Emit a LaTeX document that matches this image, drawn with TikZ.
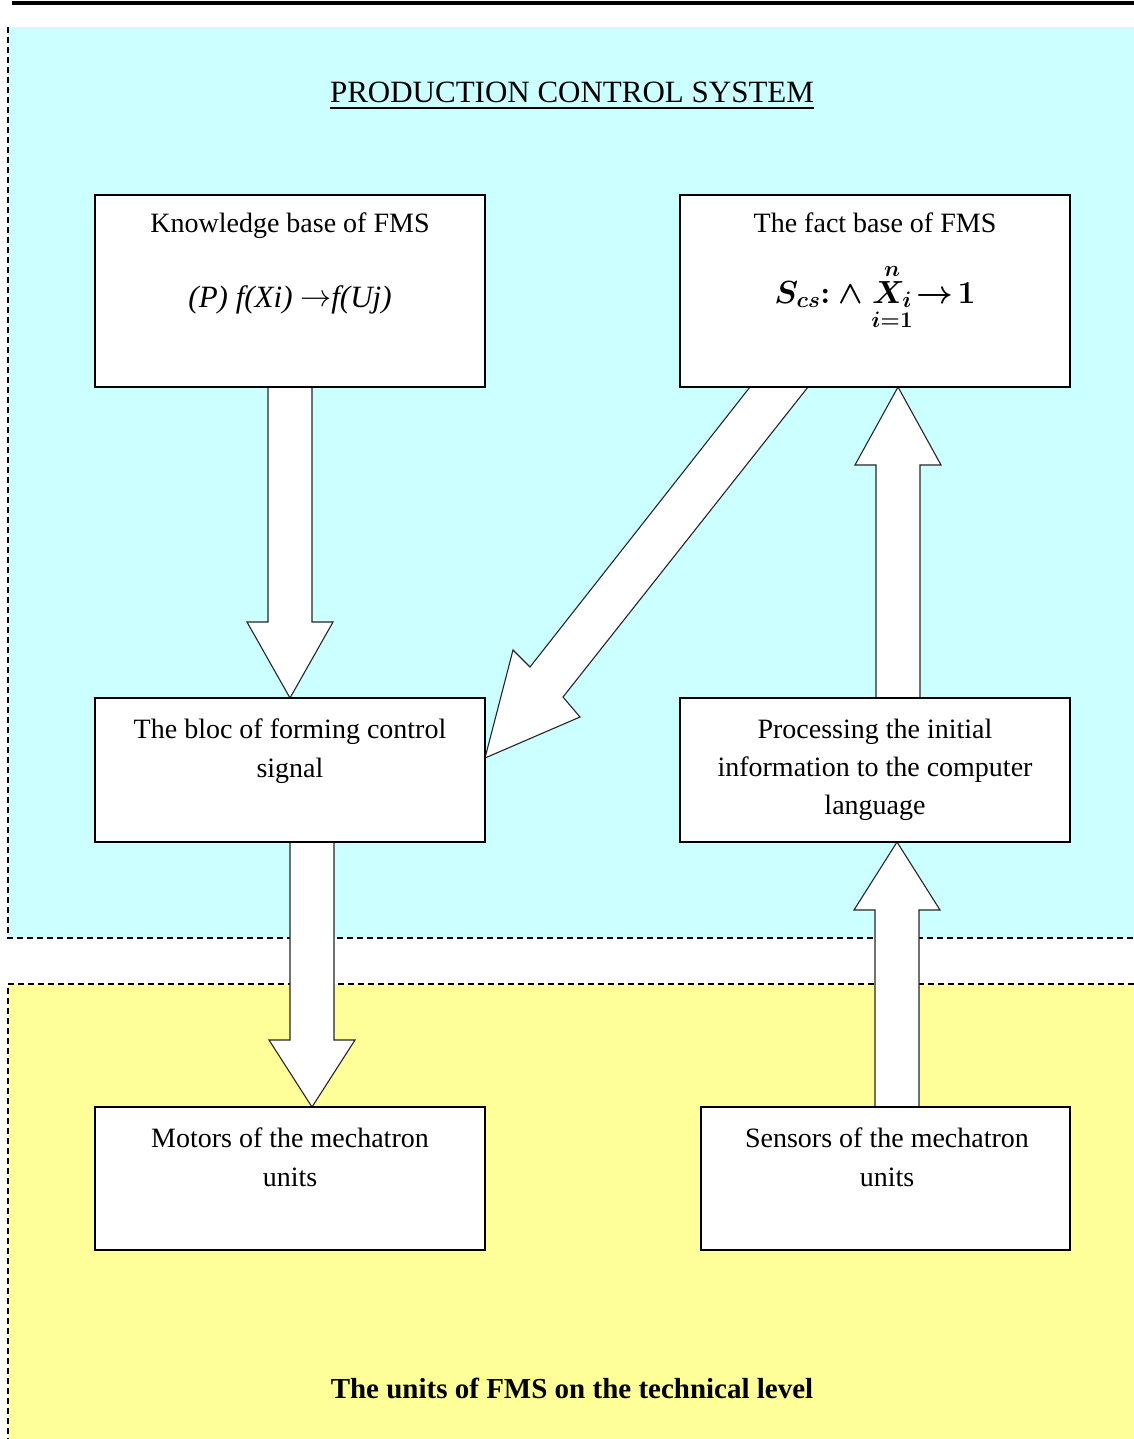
\documentclass[tikz,border=0pt]{standalone}
\usepackage{fix-cm}
\usepackage{fontspec}
\setmainfont{Liberation Serif}
\usepackage{amsmath}
\usetikzlibrary{calc}
\definecolor{cyanbg}{RGB}{204,255,255}
\definecolor{yellowbg}{RGB}{255,255,153}
\newcommand{\vblockarrow}[4]{%
  \draw[blockarrow] (#1-22,#2) -- (#1-22,#3) -- (#1-43,#3) -- (#1,#4) -- (#1+43,#3) -- (#1+22,#3) -- (#1+22,#2) -- cycle;}
\begin{document}
\begin{tikzpicture}[x=1pt,y=-1pt,
  box/.style={draw=black, line width=1.2pt, fill=white, inner sep=0pt},
  blockarrow/.style={draw=black!85, line width=1.1pt, fill=white, line join=miter},
  txt/.style={inner sep=0pt, anchor=base, font=\fontsize{28}{39}\selectfont},
  regionline/.style={dash pattern=on 6pt off 4pt, line width=1.2pt}]
\useasboundingbox (0,0) rectangle (1134,1439);
% regions
\fill[cyanbg] (8,27) rectangle (1134,938);
\fill[yellowbg] (8,984) rectangle (1134,1439);
\draw[regionline] (8,27) -- (8,938) -- (1134,938);
\draw[regionline] (1134,984) -- (8,984) -- (8,1439);
\draw[line width=3.5pt] (12,3) -- (1134,3);
% block arrows
\vblockarrow{290}{387}{622}{698}
\vblockarrow{312}{842}{1040}{1107}
\vblockarrow{898}{698}{465}{387}
\vblockarrow{897}{1107}{910}{842}
\draw[blockarrow] (750,387) -- (530,667) -- (513,650) -- (485,758) -- (580,717) -- (563,697) -- (808,387) -- cycle;
% boxes
\node[box, minimum width=390pt, minimum height=192pt] (kb) at (290,291) {};
\node[box, minimum width=390pt, minimum height=192pt] (fact) at (875,291) {};
\node[box, minimum width=390pt, minimum height=144pt] (bloc) at (290,770) {};
\node[box, minimum width=390pt, minimum height=144pt] (proc) at (875,770) {};
\node[box, minimum width=390pt, minimum height=143pt] (mot) at (290,1178.5) {};
\node[box, minimum width=369pt, minimum height=143pt] (sens) at (885.5,1178.5) {};
% texts
\node[txt, font=\fontsize{31}{36}\selectfont] (title) at (572,103) {PRODUCTION CONTROL SYSTEM};
\draw[line width=2.8pt] ($(title.base west)+(0,5)$) -- ($(title.base east)+(0,5)$);
\node[txt] (kbt) at (290,233) {Knowledge base of FMS};
\node[txt, font=\fontsize{31}{36}\selectfont\itshape] (kbf) at (290,307) {(P) f(Xi) \raisebox{1pt}{$\rightarrow$}f(Uj)};
\node[txt] (factt) at (875,233) {The fact base of FMS};
\node[txt, font=\fontsize{32}{40}\selectfont] (factf) at (875,303) {$\boldsymbol{S_{cs}{:}\wedge\overset{n}{\underset{i=1}{X_i}}\!\rightarrow\! 1}$};
\node[txt] (bloct) at (290,738) {\begin{tabular}[t]{@{}c@{}}The bloc of forming control\\signal\end{tabular}};
\node[txt, font=\fontsize{28}{38}\selectfont] (proct) at (875,738) {\begin{tabular}[t]{@{}c@{}}Processing the initial\\information to the computer\\language\end{tabular}};
\node[txt] (mott) at (290,1147) {\begin{tabular}[t]{@{}c@{}}Motors of the mechatron\\units\end{tabular}};
\node[txt] (senst) at (887,1147) {\begin{tabular}[t]{@{}c@{}}Sensors of the mechatron\\units\end{tabular}};
\node[txt, font=\fontsize{29}{36}\selectfont\bfseries] (units) at (572,1398) {The units of FMS on the technical level};
\end{tikzpicture}
\end{document}
